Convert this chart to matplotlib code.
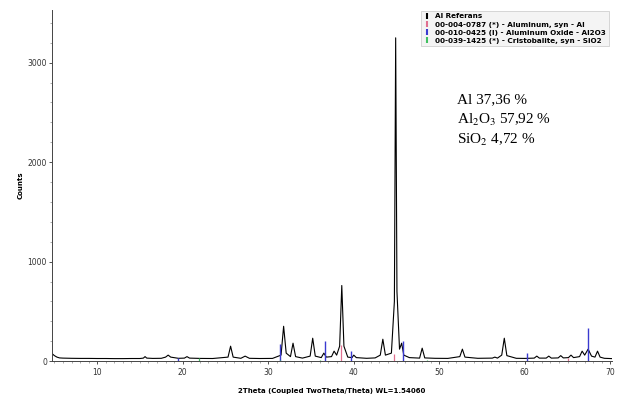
import numpy as np
import matplotlib
matplotlib.use("Agg")
import matplotlib.pyplot as plt
from matplotlib.lines import Line2D

scan_x = [4.8, 5.0, 5.3, 5.6, 6.0, 7.0, 8.0, 9.0, 10.0, 11.0, 12.0, 13.0, 14.0, 15.0,
          15.4, 15.6, 15.8, 16.5, 17.5, 18.0, 18.3, 18.6, 19.5, 20.2, 20.5, 20.8, 22.0,
          23.5, 25.3, 25.6, 25.9, 26.8, 27.3, 27.8, 29.0, 30.5, 31.5, 31.8, 32.1, 32.6,
          32.9, 33.2, 34.0, 34.9, 35.2, 35.5, 36.2, 36.5, 36.8, 37.4, 37.7, 38.0, 38.35,
          38.6, 38.85, 39.3, 39.8, 40.0, 40.3, 41.5, 42.5, 43.1, 43.4, 43.7, 44.4, 44.75,
          44.9, 45.05, 45.35, 45.6, 45.85, 46.5, 47.7, 48.0, 48.3, 49.5, 51.0, 52.4, 52.7,
          53.0, 54.5, 56.2, 56.5, 56.8, 57.3, 57.6, 57.9, 59.0, 60.0, 61.1, 61.4, 61.7,
          62.5, 62.8, 63.1, 63.9, 64.2, 64.5, 65.1, 65.4, 65.7, 66.4, 66.7, 67.0, 67.4,
          67.8, 68.2, 68.5, 68.8, 69.3, 70.2]
scan_y = [70, 55, 40, 32, 30, 28, 27, 27, 26, 26, 25, 25, 26, 26,
          30, 45, 30, 27, 28, 40, 60, 40, 28, 30, 45, 30, 27,
          26, 40, 150, 40, 28, 50, 28, 26, 27, 60, 350, 80, 45,
          180, 45, 30, 50, 230, 50, 35, 80, 40, 45, 100, 60, 150,
          760, 150, 40, 35, 60, 35, 28, 32, 60, 220, 60, 80, 600,
          3250, 700, 120, 180, 60, 35, 30, 130, 32, 28, 27, 45, 120,
          40, 28, 30, 40, 30, 60, 230, 55, 28, 27, 30, 50, 30,
          30, 50, 30, 32, 55, 32, 35, 60, 35, 45, 100, 60, 120,
          50, 40, 100, 40, 28, 25]

# reference sticks
al_pos = [38.47, 44.74, 65.1]
al_int = [160, 75, 35]
gamma_pos = [19.4, 31.4, 36.6, 39.7, 45.7, 60.2, 67.4]
gamma_int = [30, 170, 200, 100, 200, 80, 330]
sio2_pos = [21.9, 31.4, 36.1, 48.6]
sio2_int = [30, 8, 10, 6]

legend_labels = ["Al Referans",
                 "00-004-0787 (*) - Aluminum, syn - Al",
                 "00-010-0425 (I) - Aluminum Oxide - Al2O3",
                 "00-039-1425 (*) - Cristobalite, syn - SiO2"]
phase_text = ["Al 37,36 %", "Al$_2$O$_3$ 57,92 %", "SiO$_2$ 4,72 %"]

plt.rcParams['font.family'] = 'DejaVu Sans'
plt.rcParams['mathtext.fontset'] = 'stix'

fig = plt.figure(figsize=(6.17, 3.99), dpi=100)
ax = fig.add_axes([0.084, 0.095, 0.908, 0.88])

ax.plot(scan_x, scan_y, color='black', linewidth=0.8)
ax.vlines(al_pos, 0, al_int, color='#e07090', linewidth=0.9)
ax.vlines(gamma_pos, 0, gamma_int, color='#3a3ad0', linewidth=1.0)
ax.vlines(sio2_pos, 0, sio2_int, color='#40c060', linewidth=0.9)

ax.set_xlim(4.7, 70.2)
ax.set_ylim(0, 3530)
ax.set_xticks([10, 20, 30, 40, 50, 60, 70])
ax.set_xticks(np.arange(5, 71, 1), minor=True)
ax.set_yticks([0, 1000, 2000, 3000])
ax.set_yticks(np.arange(0, 3500, 200), minor=True)
ax.tick_params(axis='both', which='major', labelsize=5.5, length=2, width=0.6,
               pad=1.5, colors='#333333')
ax.tick_params(axis='both', which='minor', length=1.5, width=0.5, colors='#888888')
ax.tick_params(axis='x', which='major', pad=3)

for s in ['top', 'right']:
    ax.spines[s].set_visible(False)
for s in ['left', 'bottom']:
    ax.spines[s].set_color('#444444')
    ax.spines[s].set_linewidth(0.7)

ax.set_ylabel('Counts', fontsize=5, fontweight='bold', labelpad=3)
ax.set_xlabel('2Theta (Coupled TwoTheta/Theta) WL=1.54060', fontsize=5, fontweight='bold', labelpad=8)

handles = [Line2D([], [], color=c, marker='|', linestyle='none', markersize=5, markeredgewidth=1.5)
           for c in ['black', '#e07090', '#3a3ad0', '#40c060']]
leg = ax.legend(handles, legend_labels, loc='upper right', bbox_to_anchor=(0.995, 1.0),
                fontsize=5.2, frameon=True, fancybox=False, borderpad=0.35, labelspacing=0.3,
                handlelength=0.8, handletextpad=0.8, borderaxespad=0.1)
leg.get_frame().set_facecolor('#f2f2f2')
leg.get_frame().set_edgecolor('#bbbbbb')
leg.get_frame().set_linewidth(0.5)
for t in leg.get_texts():
    t.set_fontweight('bold')

for i, t in enumerate(phase_text):
    ax.text(0.723, 0.745 - i * 0.058, t, transform=ax.transAxes, fontsize=11,
            family='Liberation Serif', va='center', ha='left')

fig.savefig('out.png', dpi=100)
